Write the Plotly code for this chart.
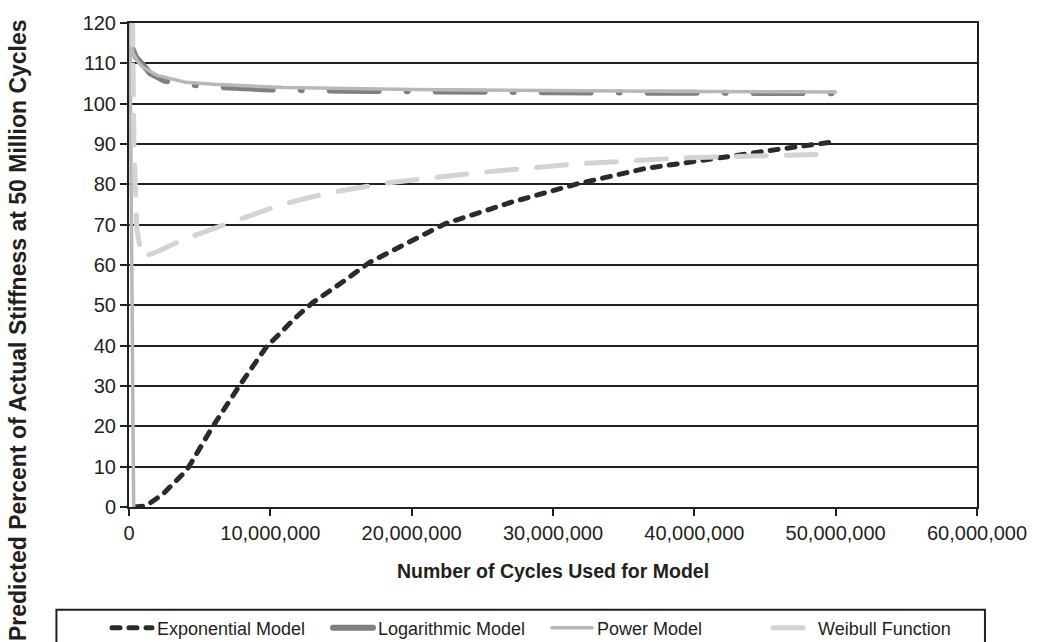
import plotly.graph_objects as go

# ---------------- data ----------------
exp_x = [400000, 1000000, 1500000, 2400000, 4100000, 5900000, 7800000, 9700000,
         11800000, 13000000, 15200000, 17000000, 20000000, 22400000, 27000000,
         31800000, 36500000, 39700000, 42500000, 46000000, 50000000]
exp_y = [0, 0.2, 1.0, 3.2, 9.2, 19.8, 30, 39.6, 47, 50.7, 56, 60.6, 66, 70.3,
         75.5, 80.2, 83.9, 85.6, 87.0, 88.7, 90.6]

log_x = [250000, 500000, 1000000, 1500000, 2500000, 4000000, 6000000, 10000000,
         15000000, 20000000, 30000000, 40000000, 50000000]
log_y = [113.5, 111.5, 109.5, 107.5, 105.7, 104.8, 104.2, 103.5, 103.2, 103.0,
         102.8, 102.7, 102.6]

pow_x = [330000, 60000, 150000, 300000, 600000, 1000000, 2000000, 4000000,
         6000000, 11000000, 20000000, 30000000, 40000000, 50000000]
pow_y = [0, 121, 115, 112.5, 110.5, 109, 107, 105.3, 104.8, 104.0, 103.5,
         103.2, 103.0, 102.9]

wei_x = [250000, 350000, 550000, 900000, 1800000, 3400000, 5000000,
         6600000, 8500000, 10800000, 14000000, 18400000, 24700000, 31800000,
         39500000, 50000000]
wei_y = [122, 90, 69, 62, 63, 65.6, 67.8, 69.8, 72, 75, 77.8, 80.4, 82.9,
         85.1, 86.6, 87.5]

series_names = ["Exponential Model", "Logarithmic Model", "Power Model", "Weibull Function"]

x_title = "Number of Cycles Used for Model"
y_title = "Predicted Percent of Actual Stiffness at 50 Million Cycles"

FONT = "Liberation Sans, Arial, sans-serif"
DARK = "#231f20"
W, H = 1039, 642

fig = go.Figure()
fig.add_trace(go.Scatter(x=exp_x, y=exp_y, mode="lines", name=series_names[0],
                         legend="legend",
                         line=dict(color="#2b2b2b", width=5, dash="8px,9px")))
fig.add_trace(go.Scatter(x=log_x, y=log_y, mode="lines", name=series_names[1],
                         legend="legend",
                         line=dict(color="#7f7f7f", width=6, dash="49px,28px,1px,28px")))
fig.add_trace(go.Scatter(x=pow_x, y=pow_y, mode="lines", name=series_names[2],
                         legend="legend2",
                         line=dict(color="#b8b8b8", width=3.5)))
fig.add_trace(go.Scatter(x=wei_x, y=wei_y, mode="lines", name=series_names[3],
                         legend="legend2",
                         line=dict(color="#d3d3d3", width=5, dash="30px,20px")))

leg_common = dict(orientation="h", xref="container", yref="container",
                  xanchor="left", y=(H - 628) / H, yanchor="middle",
                  font=dict(family=FONT, size=18, color=DARK),
                  entrywidth=166, entrywidthmode="pixels", itemwidth=40,
                  bgcolor="rgba(0,0,0,0)", borderwidth=0)

fig.update_layout(
    width=W, height=H,
    margin=dict(l=129, r=57, t=22, b=135),
    plot_bgcolor="white", paper_bgcolor="white",
    font=dict(family=FONT, size=20, color=DARK),
    showlegend=True,
    legend=dict(x=107 / W, **leg_common),
    legend2=dict(x=547 / W, **leg_common),
    shapes=[dict(type="rect", xref="paper", yref="paper",
                 x0=(56 - 129) / 853, x1=(990 - 129) / 853,
                 y0=-0.5, y1=(507 - 610) / 485,
                 line=dict(color=DARK, width=2), fillcolor="rgba(0,0,0,0)",
                 layer="below")],
    annotations=[
        dict(text="<b>" + y_title + "</b>", xref="paper", yref="paper",
             x=(18 - 129) / 853, y=(507 - 330) / 485, textangle=-90,
             showarrow=False, font=dict(family=FONT, size=23, color=DARK),
             xanchor="center", yanchor="middle"),
        dict(text="<b>" + x_title + "</b>", xref="paper", yref="paper",
             x=0.5, y=(507 - 571) / 485, showarrow=False,
             font=dict(family=FONT, size=19.5, color=DARK),
             xanchor="center", yanchor="middle"),
    ],
)

fig.update_xaxes(range=[0, 60000000], dtick=10000000, tick0=0, tickformat=",d",
                 showgrid=False, zeroline=False, showline=True, linecolor=DARK,
                 linewidth=2, mirror=True, ticks="outside", ticklen=7,
                 tickwidth=2, tickcolor=DARK,
                 tickfont=dict(family=FONT, size=20, color=DARK))
fig.update_yaxes(range=[0, 120], dtick=10, tick0=0, showgrid=True,
                 gridcolor=DARK, gridwidth=2, zeroline=False, showline=True,
                 linecolor=DARK, linewidth=2, mirror=True, ticks="outside",
                 ticklen=7, tickwidth=2, tickcolor=DARK,
                 tickfont=dict(family=FONT, size=20, color=DARK))

post = ("var s=document.createElement('style');"
        "s.innerHTML='.js-line{stroke-linecap:round !important;}';"
        "document.head.appendChild(s);")
fig.write_html("out.html", post_script=post)
